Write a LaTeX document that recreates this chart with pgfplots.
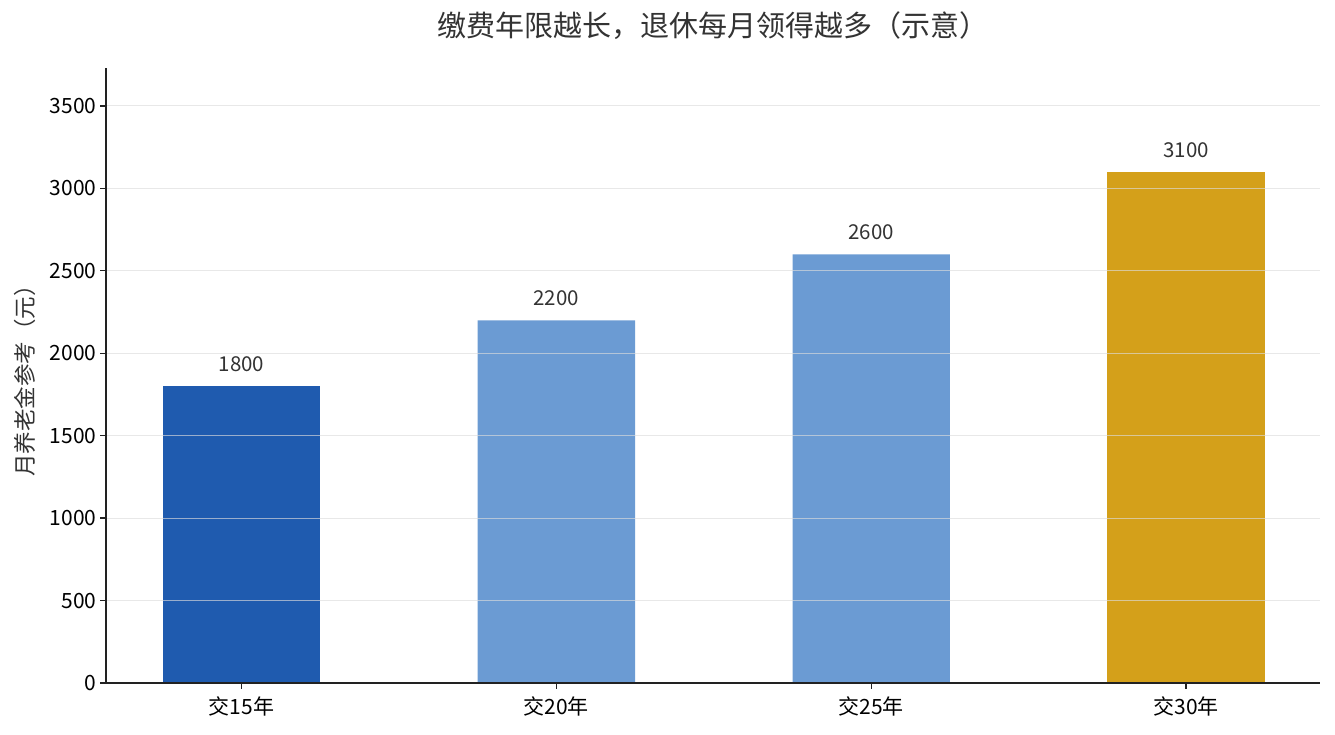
\documentclass[border=0pt]{standalone}
\usepackage{pgfplots}
\pgfplotsset{compat=1.18}
\usepackage{fontspec}
\setmainfont{Noto Sans CJK SC}
\definecolor{cA}{HTML}{1F5BAF}
\definecolor{cB}{HTML}{6B9BD3}
\definecolor{cC}{HTML}{D4A01A}
\definecolor{gridc}{HTML}{DCDCDC}
\definecolor{txt}{HTML}{333333}
\definecolor{axc}{HTML}{222222}
\begin{document}
\begin{tikzpicture}[x=1pt,y=1pt]
\useasboundingbox (0,0) rectangle (1335,735);
\begin{axis}[
  at={(106pt,52pt)}, anchor=south west,
  scale only axis, width=1214pt, height=615pt,
  xmin=-0.43, xmax=3.425, ymin=0, ymax=3730,
  axis x line*=bottom, axis y line*=left,
  axis line style={axc, line width=1.4pt},
  every axis plot/.append style={draw=none},
  xtick={0,1,2,3},
  xticklabels={交15年,交20年,交25年,交30年},
  ytick={0,500,...,3500},
  tick align=outside, major tick length=6pt,
  tick style={axc, line width=1.4pt},
  /pgf/number format/.cd, 1000 sep={}, assume math mode=true, /pgfplots/.cd,
  ticklabel style={font=\fontsize{21}{24}\selectfont, text=black},
  xticklabel style={yshift=-4pt},
  ymajorgrids, grid style={gridc, line width=1pt, draw opacity=0.65},
  axis on top,
  ybar, bar width=0.5, bar shift=0pt,
  ylabel={月养老金参考（元）},
  ylabel style={at={(axis description cs:-0.0667,0.5)}, anchor=center, font=\fontsize{22.5}{26}\selectfont, text=txt},
  title={缴费年限越长，退休每月领得越多（示意）},
  title style={at={(axis description cs:0.5,1)}, anchor=center, yshift=36pt, font=\fontsize{29}{32}\selectfont, text=txt},
  nodes near coords,
  every node near coord/.append style={font=\fontsize{20.5}{24}\selectfont, text=txt, anchor=south, yshift=11pt},
  clip=false,
]
\addplot[fill=cA] coordinates {(0,1800)};
\addplot[fill=cB] coordinates {(1,2200) (2,2600)};
\addplot[fill=cC] coordinates {(3,3100)};
\end{axis}
\end{tikzpicture}
\end{document}
